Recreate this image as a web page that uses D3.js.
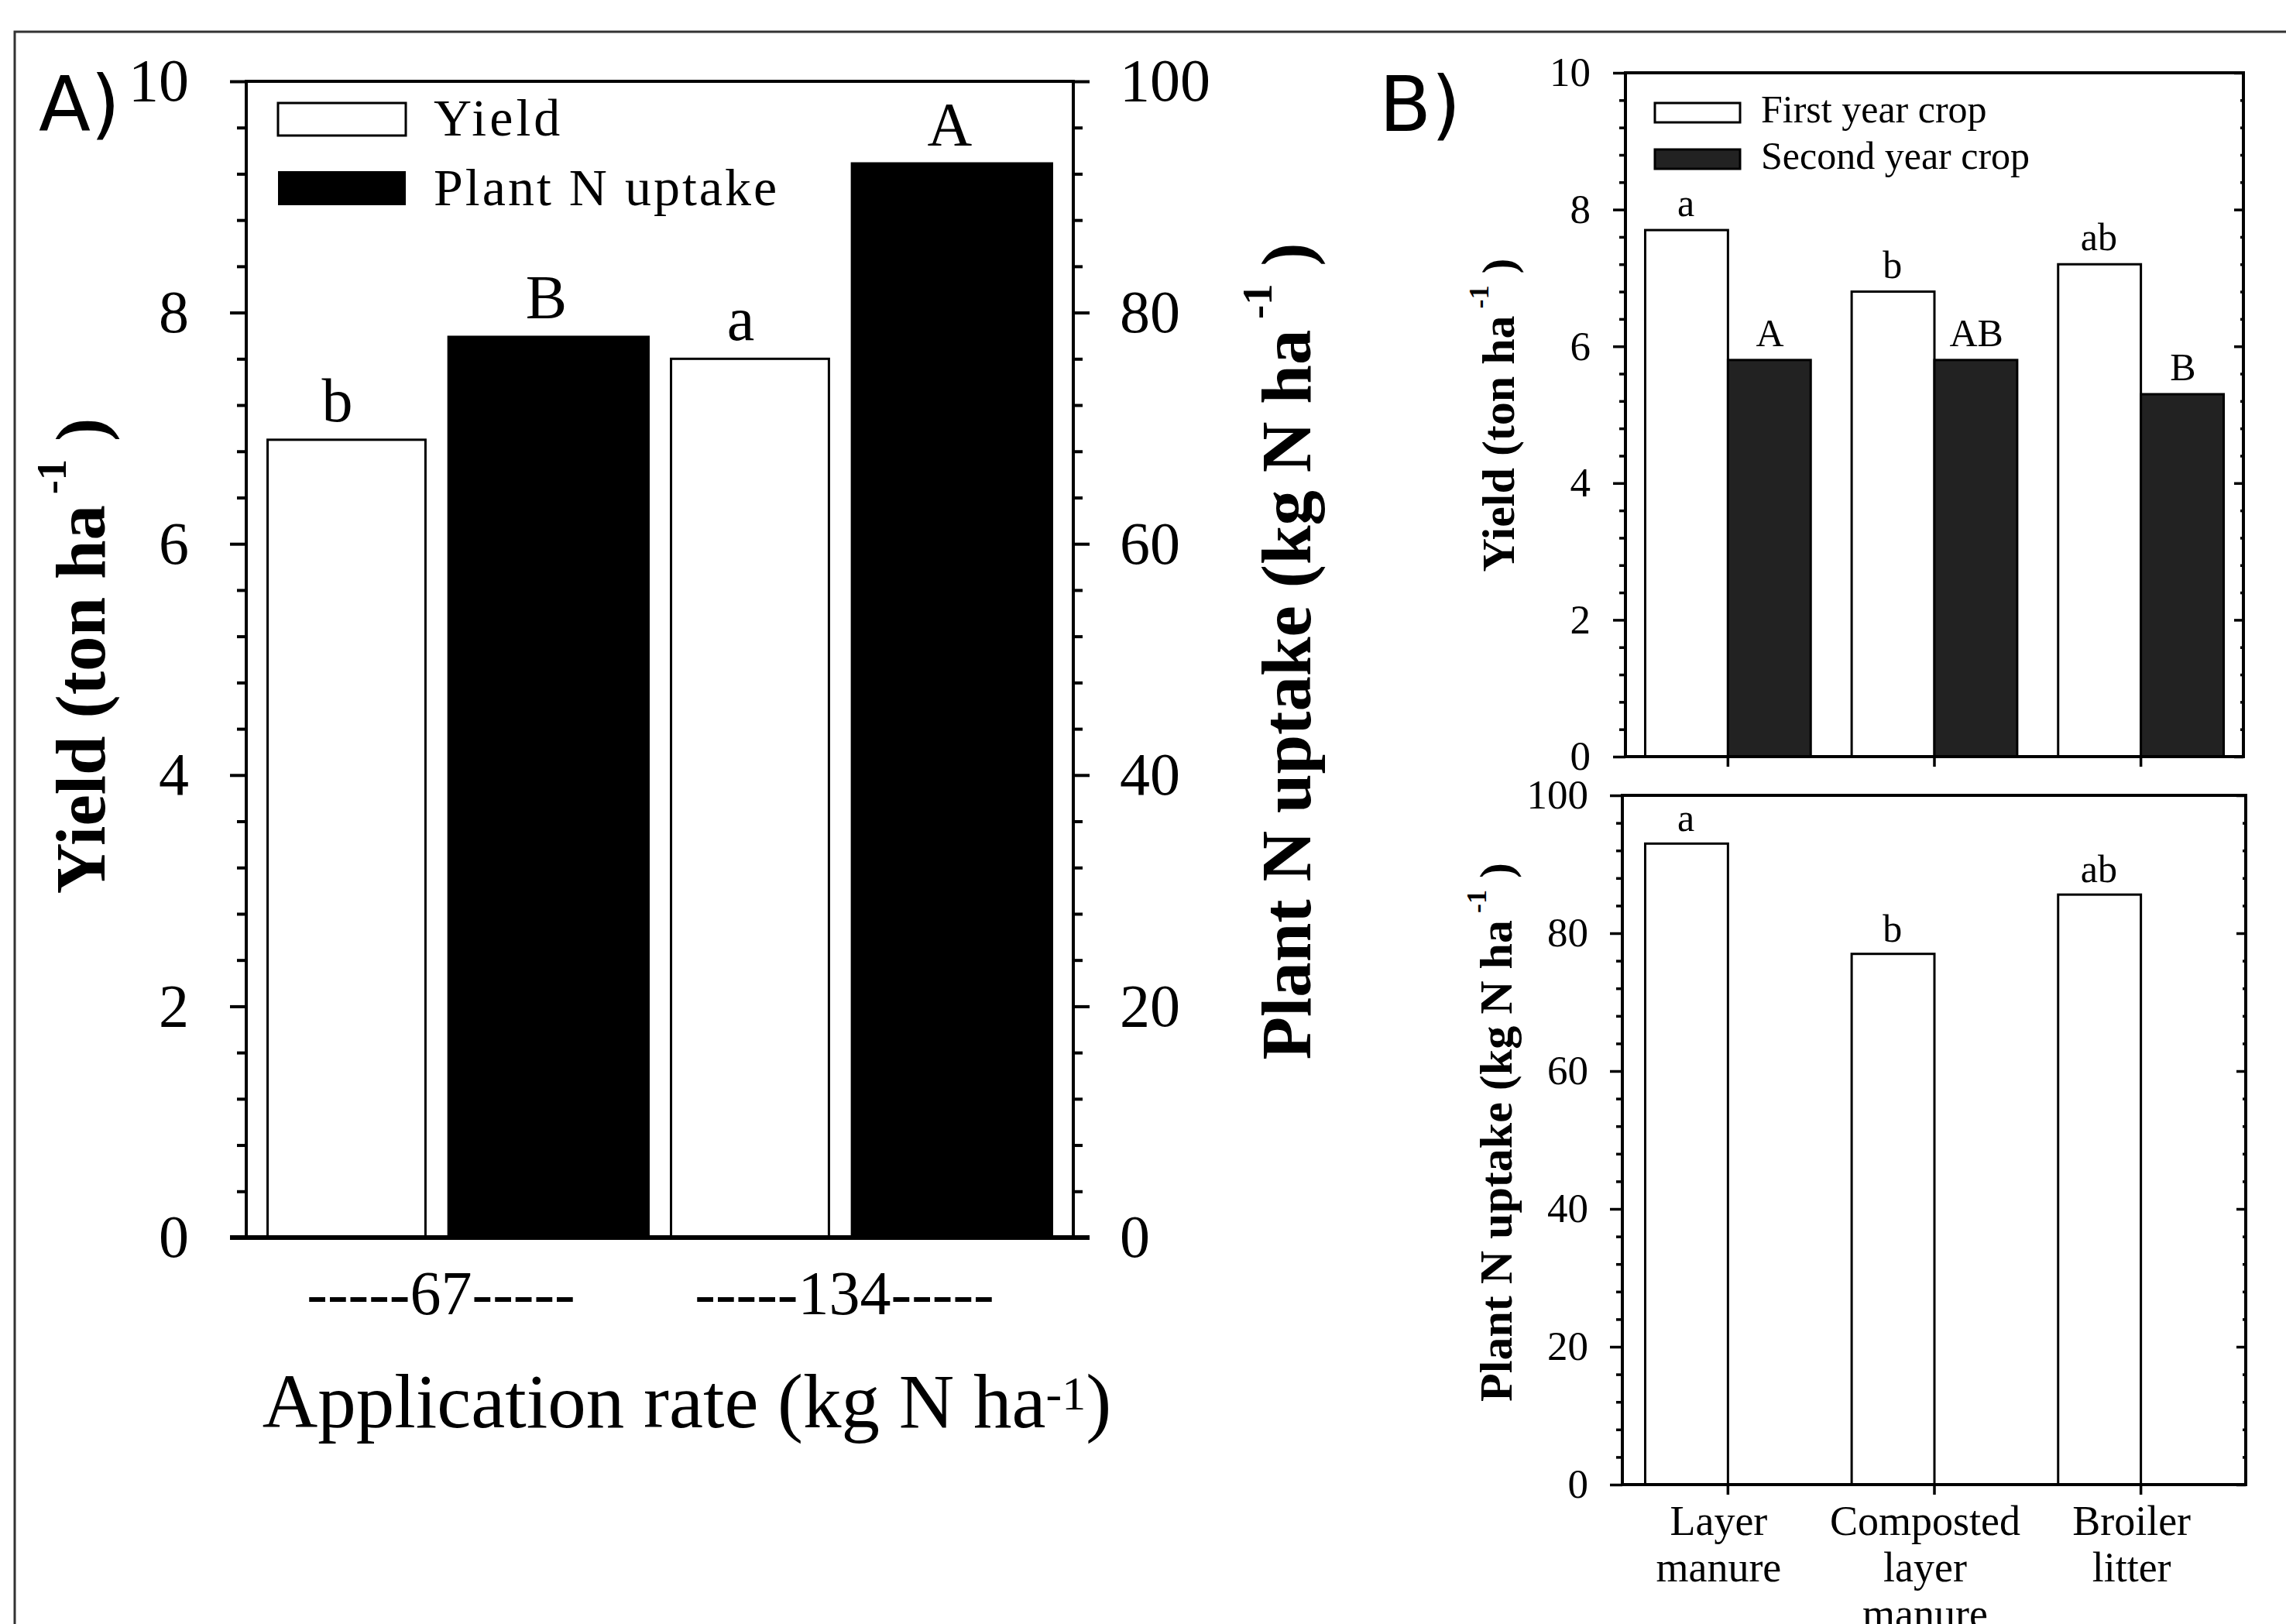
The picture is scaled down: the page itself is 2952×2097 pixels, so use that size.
<!DOCTYPE html>
<html>
<head>
<meta charset="utf-8">
<script src="https://cdn.jsdelivr.net/npm/d3@7"></script>
<style type="text/css">
  body{
    margin: 0;
    background: white;
  }
  svg text{
    font-family: 'Liberation Serif', 'Times New Roman', serif;
    fill: black;
  }
  .tag{
    font-family: 'DejaVu Sans', sans-serif;
  }
  .title{
    font-weight: bold;
  }
</style>
</head>
<body>

<svg id="chart" width="2952" height="2097"></svg>

<script>

// ---- panel A data
var rateGroups = ["67", "134"];
var rateLabels = ["-----67-----", "-----134-----"];
var yieldA = [6.9, 7.6];
var uptakeA = [78, 93];
var yieldLettersA = ["b", "a"];
var uptakeLettersA = ["B", "A"];
var yTicksA = [0, 2, 4, 6, 8, 10];
var y2TicksA = [0, 20, 40, 60, 80, 100];

// ---- panel B data
var sources = ["Layer manure", "Composted layer manure", "Broiler litter"];
var sourceLines = [["Layer", "manure"], ["Composted", "layer", "manure"], ["Broiler", "litter"]];
var yieldFirst = [7.7, 6.8, 7.2];
var yieldSecond = [5.8, 5.8, 5.3];
var firstLetters = ["a", "b", "ab"];
var secondLetters = ["A", "AB", "B"];
var uptakeB = [93, 77, 85.6];
var uptakeLettersB = ["a", "b", "ab"];
var yTicksB = [0, 2, 4, 6, 8, 10];
var y2TicksB = [0, 20, 40, 60, 80, 100];

var svg = d3.select("#chart");

// outer frame (runs off the right and bottom edge)
svg.append("rect")
  .attr("x", 19).attr("y", 41)
  .attr("width", 3100).attr("height", 2200)
  .attr("fill", "none").attr("stroke", "#333").attr("stroke-width", 3);

function minorOf(majors, step) {
  var lo = majors[0], hi = majors[majors.length - 1];
  var majorStep = majors[1] - majors[0];
  return d3.range(lo, hi + step / 2, step).filter(function(v) {
    var r = v / majorStep;
    return Math.abs(r - Math.round(r)) > 1e-6;
  });
}

// draws one y axis (major + minor ticks) at x
function yAxis(scale, x, orient, majors, minors, majLen, minLen, pad, fontSize, width, showLabels) {
  var make = orient == "right" ? d3.axisRight : d3.axisLeft;
  var gMaj = svg.append("g").attr("transform", "translate(" + x + ",0)")
    .call(make(scale).tickValues(majors).tickSize(majLen).tickSizeOuter(0).tickPadding(pad)
      .tickFormat(showLabels ? d3.format("d") : ""));
  var gMin = svg.append("g").attr("transform", "translate(" + x + ",0)")
    .call(make(scale).tickValues(minors).tickSize(minLen).tickSizeOuter(0).tickFormat(""));
  [gMaj, gMin].forEach(function(g) {
    g.attr("font-family", null).attr("font-size", null);
    g.select(".domain").remove();
    g.selectAll("line").attr("stroke", "#000").attr("stroke-width", width);
  });
  gMaj.selectAll("text").style("font-size", fontSize + "px");
}

function frame(x0, y0, x1, y1, w) {
  svg.append("rect")
    .attr("x", x0).attr("y", y0)
    .attr("width", x1 - x0).attr("height", y1 - y0)
    .attr("fill", "none").attr("stroke", "#000").attr("stroke-width", w);
}

// rotated title with a superscript -1
function vTitle(x, y, size, main, tail) {
  var t = svg.append("text")
    .attr("class", "title")
    .attr("transform", "translate(" + x + "," + y + ") rotate(-90)")
    .attr("text-anchor", "middle")
    .style("font-size", size + "px");
  t.append("tspan").text(main);
  t.append("tspan").attr("dy", -0.55 * size).style("font-size", (0.6 * size) + "px").text(" -1");
  t.append("tspan").attr("dy", 0.55 * size).text(" " + tail);
}

// ================= Panel A =================
var aL = 318, aR = 1386, aT = 105, aB = 1598;
var yA = d3.scaleLinear().domain([0, 10]).range([aB, aT]);
var y2A = d3.scaleLinear().domain([0, 100]).range([aB, aT]);
var xA = d3.scaleBand().domain(rateGroups).range([aL, aR]).paddingInner(0.05).paddingOuter(0.05);
var bwA = xA.bandwidth();

svg.selectAll(".barYieldA")
  .data(yieldA)
  .enter().append("rect")
  .attr("class", "barYieldA")
  .attr("x", function(d, i) { return xA(rateGroups[i]) + 1.5; })
  .attr("y", function(d) { return yA(d); })
  .attr("width", bwA * 0.418 - 3)
  .attr("height", function(d) { return aB - yA(d); })
  .attr("fill", "white").attr("stroke", "#000").attr("stroke-width", 3);

svg.selectAll(".barUptakeA")
  .data(uptakeA)
  .enter().append("rect")
  .attr("class", "barUptakeA")
  .attr("x", function(d, i) { return xA(rateGroups[i]) + bwA * 0.472; })
  .attr("y", function(d) { return y2A(d); })
  .attr("width", bwA * 0.528)
  .attr("height", function(d) { return aB - y2A(d); })
  .attr("fill", "#000");

svg.selectAll(".letYieldA")
  .data(yieldA)
  .enter().append("text")
  .attr("x", function(d, i) { return xA(rateGroups[i]) + bwA * 0.185; })
  .attr("y", function(d) { return yA(d) - 24; })
  .attr("text-anchor", "middle")
  .style("font-size", "80px")
  .text(function(d, i) { return yieldLettersA[i]; });

svg.selectAll(".letUptakeA")
  .data(uptakeA)
  .enter().append("text")
  .attr("x", function(d, i) { return xA(rateGroups[i]) + bwA * 0.73; })
  .attr("y", function(d) { return y2A(d) - 22; })
  .attr("text-anchor", "middle")
  .style("font-size", "80px")
  .text(function(d, i) { return uptakeLettersA[i]; });

frame(aL, aT, aR, aB, 4);
svg.append("line").attr("x1", aL - 21).attr("x2", aR + 21).attr("y1", aB).attr("y2", aB)
  .attr("stroke", "#000").attr("stroke-width", 6);

yAxis(yA, aL, "left", yTicksA, minorOf(yTicksA, 0.4), 21, 12, 53, 78, 4, true);
yAxis(y2A, aR, "right", y2TicksA, minorOf(y2TicksA, 4), 21, 12, 39, 78, 4, true);

svg.selectAll(".rateLabel")
  .data(rateGroups)
  .enter().append("text")
  .attr("x", function(d) { return xA(d) + bwA / 2 - 22; })
  .attr("y", 1697)
  .attr("text-anchor", "middle")
  .style("font-size", "80px")
  .text(function(d, i) { return rateLabels[i]; });

var xt = svg.append("text")
  .attr("x", (344 + 1430) / 2).attr("y", 1843)
  .attr("text-anchor", "middle")
  .style("font-size", "99px");
xt.append("tspan").text("Application rate (kg N ha");
xt.append("tspan").attr("dy", -23).style("font-size", "62px").text("-1");
xt.append("tspan").attr("dy", 23).text(")");

vTitle(135, 847, 91, "Yield (ton ha", ")");
vTitle(1692, 841, 91, "Plant N uptake (kg N ha", ")");

// legend A
svg.append("rect").attr("x", 359).attr("y", 133).attr("width", 165).attr("height", 42)
  .attr("fill", "white").attr("stroke", "#000").attr("stroke-width", 3);
svg.append("rect").attr("x", 359).attr("y", 221).attr("width", 165).attr("height", 44)
  .attr("fill", "#000");
svg.append("text").attr("x", 560).attr("y", 175).style("font-size", "68px")
  .style("letter-spacing", "4px").text("Yield");
svg.append("text").attr("x", 560).attr("y", 265).style("font-size", "68px")
  .style("letter-spacing", "3px").text("Plant N uptake");

svg.append("text").attr("class", "tag").attr("x", 50).attr("y", 168)
  .style("font-size", "98px").text("A)");

// ================= Panel B =================
var bL = 2099, bR = 2897, b1T = 94, b1B = 977;
var b2L = 2095, b2R = 2900, b2T = 1027, b2B = 1917;
var xB = d3.scaleBand().domain(sources).range([bL, bR]).paddingInner(0.187).paddingOuter(0.09);
var bwB = xB.bandwidth();
var yB1 = d3.scaleLinear().domain([0, 10]).range([b1B, b1T]);
var yB2 = d3.scaleLinear().domain([0, 100]).range([b2B, b2T]);

// upper: yield
svg.selectAll(".barFirst")
  .data(yieldFirst)
  .enter().append("rect")
  .attr("x", function(d, i) { return xB(sources[i]) + 1.5; })
  .attr("y", function(d) { return yB1(d); })
  .attr("width", bwB / 2 - 1.5)
  .attr("height", function(d) { return b1B - yB1(d); })
  .attr("fill", "white").attr("stroke", "#000").attr("stroke-width", 3);

svg.selectAll(".barSecond")
  .data(yieldSecond)
  .enter().append("rect")
  .attr("x", function(d, i) { return xB(sources[i]) + bwB / 2; })
  .attr("y", function(d) { return yB1(d); })
  .attr("width", bwB / 2 - 1.5)
  .attr("height", function(d) { return b1B - yB1(d); })
  .attr("fill", "#222").attr("stroke", "#000").attr("stroke-width", 3);

svg.selectAll(".letFirst")
  .data(yieldFirst)
  .enter().append("text")
  .attr("x", function(d, i) { return xB(sources[i]) + bwB / 4; })
  .attr("y", function(d) { return yB1(d) - 18; })
  .attr("text-anchor", "middle")
  .style("font-size", "50px")
  .text(function(d, i) { return firstLetters[i]; });

svg.selectAll(".letSecond")
  .data(yieldSecond)
  .enter().append("text")
  .attr("x", function(d, i) { return xB(sources[i]) + bwB * 0.75; })
  .attr("y", function(d) { return yB1(d) - 18; })
  .attr("text-anchor", "middle")
  .style("font-size", "50px")
  .text(function(d, i) { return secondLetters[i]; });

frame(bL, b1T, bR, b1B, 4);
yAxis(yB1, bL, "left", yTicksB, minorOf(yTicksB, 0.4), 16, 8, 29, 53, 3.5, true);
yAxis(yB1, bR, "left", yTicksB, minorOf(yTicksB, 0.4), 12, 4, 0, 53, 3.5, false);

svg.append("g").attr("transform", "translate(0," + b1B + ")")
  .call(d3.axisBottom(xB).tickSize(13).tickSizeOuter(0).tickFormat(""))
  .call(function(g) {
    g.select(".domain").remove();
    g.selectAll("line").attr("stroke", "#000").attr("stroke-width", 3.5);
  });

// legend B
svg.append("rect").attr("x", 2137).attr("y", 133).attr("width", 110).attr("height", 25)
  .attr("fill", "white").attr("stroke", "#000").attr("stroke-width", 3);
svg.append("rect").attr("x", 2137).attr("y", 193).attr("width", 110).attr("height", 25)
  .attr("fill", "#222").attr("stroke", "#000").attr("stroke-width", 3);
svg.append("text").attr("x", 2274).attr("y", 158).style("font-size", "50px").text("First year crop");
svg.append("text").attr("x", 2274).attr("y", 218).style("font-size", "50px").text("Second year crop");

vTitle(1955, 536, 60, "Yield (ton ha", ")");

// lower: plant N uptake
svg.selectAll(".barUptakeB")
  .data(uptakeB)
  .enter().append("rect")
  .attr("x", function(d, i) { return xB(sources[i]) + 1.5; })
  .attr("y", function(d) { return yB2(d); })
  .attr("width", bwB / 2 - 1.5)
  .attr("height", function(d) { return b2B - yB2(d); })
  .attr("fill", "white").attr("stroke", "#000").attr("stroke-width", 3);

svg.selectAll(".letUptakeB")
  .data(uptakeB)
  .enter().append("text")
  .attr("x", function(d, i) { return xB(sources[i]) + bwB / 4; })
  .attr("y", function(d) { return yB2(d) - 16; })
  .attr("text-anchor", "middle")
  .style("font-size", "50px")
  .text(function(d, i) { return uptakeLettersB[i]; });

frame(b2L, b2T, b2R, b2B, 4);
yAxis(yB2, b2L, "left", y2TicksB, minorOf(y2TicksB, 4), 16, 8, 28, 53, 3.5, true);
yAxis(yB2, b2R, "left", y2TicksB, minorOf(y2TicksB, 4), 12, 4, 0, 53, 3.5, false);

svg.append("g").attr("transform", "translate(0," + b2B + ")")
  .call(d3.axisBottom(xB).tickSize(13).tickSizeOuter(0).tickFormat(""))
  .call(function(g) {
    g.select(".domain").remove();
    g.selectAll("line").attr("stroke", "#000").attr("stroke-width", 3.5);
  });

sources.forEach(function(s, i) {
  var t = svg.append("text")
    .attr("text-anchor", "middle")
    .style("font-size", "54px");
  sourceLines[i].forEach(function(line, j) {
    t.append("tspan")
      .attr("x", xB(s) + bwB / 2 - 12)
      .attr("y", 1982 + j * 60)
      .text(line);
  });
});

vTitle(1952, 1462, 60, "Plant N uptake (kg N ha", ")");

svg.append("text").attr("class", "tag").attr("x", 1781).attr("y", 169)
  .style("font-size", "98px").text("B)");

</script>

</body>
</html>
